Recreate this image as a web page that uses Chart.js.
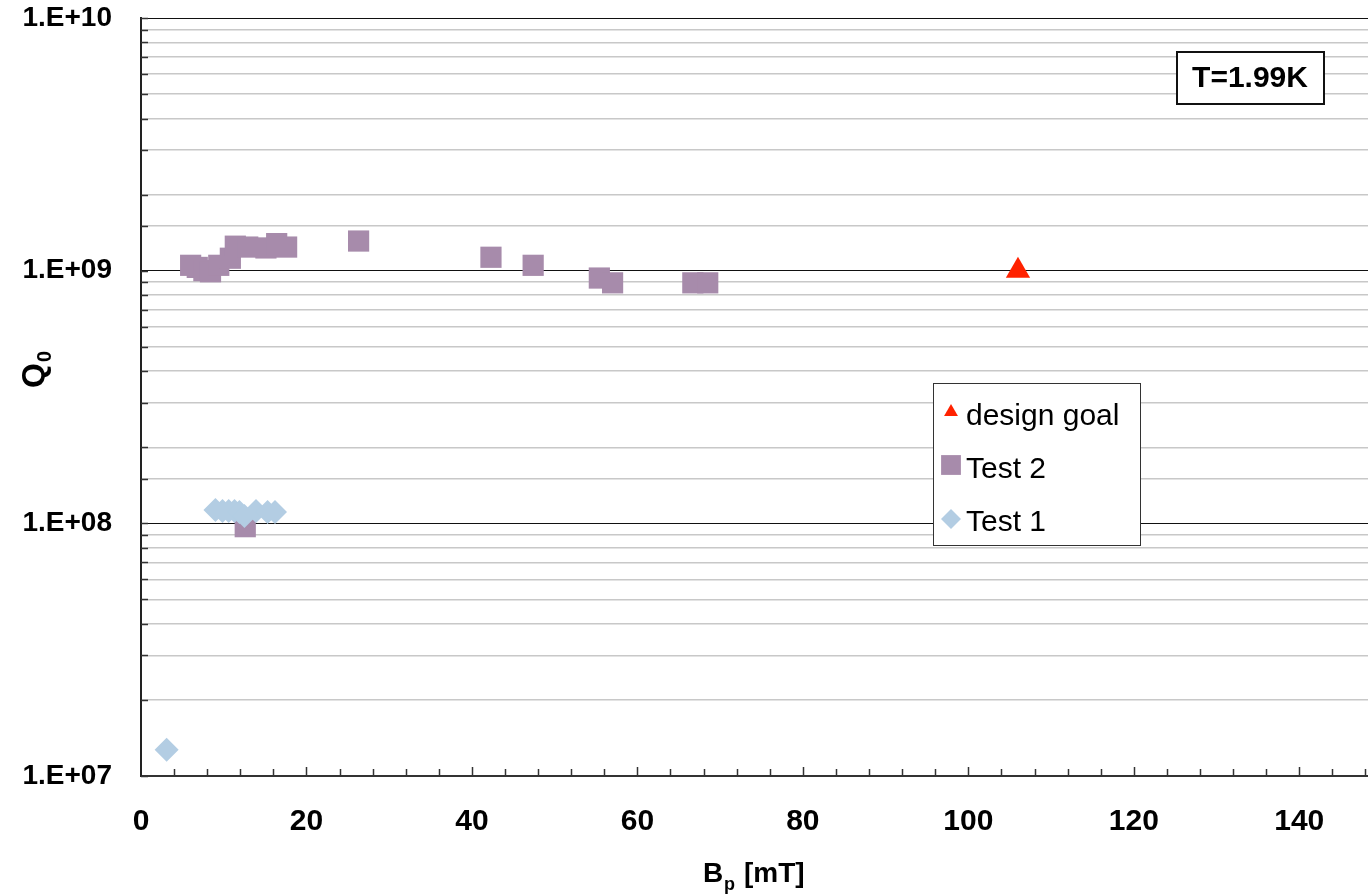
<!DOCTYPE html>
<html>
<head>
<meta charset="utf-8">
<script src="https://cdn.jsdelivr.net/npm/chart.js@4.4.1/dist/chart.umd.min.js"></script>
<style>
  html, body { margin: 0; padding: 0; background: #fff; overflow: hidden; }
  #wrap { width: 1382px; height: 896px; }
</style>
</head>
<body>
<div id="wrap"><canvas id="qChart" width="1382" height="896"></canvas></div>
<script>
// Test 2 (squares)
const test2Bp = [6.0, 6.8, 7.6, 8.4, 9.4, 10.8, 11.4, 12.9, 15.1, 16.4, 17.6, 26.3, 42.3, 47.4, 55.4, 57.0, 66.7, 68.5, 12.6];
const test2Q  = [1.05e9, 1.03e9, 1.0e9, 0.99e9, 1.05e9, 1.12e9, 1.25e9, 1.24e9, 1.23e9, 1.28e9, 1.24e9, 1.31e9, 1.13e9, 1.05e9, 0.935e9, 0.895e9, 0.895e9, 0.895e9, 0.97e8];
// Test 1 (diamonds)
const test1Bp = [9.0, 9.85, 10.6, 11.3, 11.9, 12.5, 13.9, 15.3, 16.2, 3.1];
const test1Q  = [1.13e8, 1.12e8, 1.12e8, 1.12e8, 1.11e8, 1.07e8, 1.12e8, 1.11e8, 1.11e8, 1.27e7];
// design goal
const goalBp = [106];
const goalQ  = [1.0e9];

const xTickLabels = [0, 20, 40, 60, 80, 100, 120, 140];
const tempLabel = 'T=1.99K';

const FONT = "'Liberation Sans', Arial, sans-serif";
const pts = (xs, ys) => xs.map((x, i) => ({ x: x, y: ys[i] }));
const isDecade = v => Math.abs(Math.log10(v) - Math.round(Math.log10(v))) < 1e-9;

const datasets = [
  { label: 'design goal', data: pts(goalBp, goalQ), pointStyle: 'triangle', pointRadius: 14,
    backgroundColor: '#FF2200', borderColor: '#FF2200', borderWidth: 0, order: 0 },
  { label: 'Test 2', data: pts(test2Bp, test2Q), pointStyle: 'rect', pointRadius: 15,
    backgroundColor: '#A78BAB', borderColor: '#A78BAB', borderWidth: 0, order: 2 },
  { label: 'Test 1', data: pts(test1Bp, test1Q), pointStyle: 'rectRot', pointRadius: 12,
    backgroundColor: '#B3CDE3', borderColor: '#B3CDE3', borderWidth: 0, order: 1 }
];

const extras = {
  id: 'extras',
  afterDraw(chart) {
    const ctx = chart.ctx, a = chart.chartArea;
    const xs = chart.scales.x, ys = chart.scales.y;
    ctx.save();

    // inward tick marks
    ctx.strokeStyle = '#333';
    ctx.lineWidth = 1.5;
    for (let v = 4; v <= 150; v += 4) {
      const px = Math.round(xs.getPixelForValue(v)) + 0.5;
      const len = v % 20 === 0 ? 9 : 7;
      ctx.beginPath(); ctx.moveTo(px, a.bottom); ctx.lineTo(px, a.bottom - len); ctx.stroke();
    }
    ys.ticks.forEach(t => {
      const py = Math.round(ys.getPixelForValue(t.value)) + 0.5;
      ctx.beginPath(); ctx.moveTo(a.left, py); ctx.lineTo(a.left + 7, py); ctx.stroke();
    });

    // legend box
    const lx = 933.5, ly = 383.5, lw = 207, lh = 162;
    ctx.fillStyle = '#fff';
    ctx.fillRect(lx, ly, lw, lh);
    ctx.strokeStyle = '#333'; ctx.lineWidth = 1;
    ctx.strokeRect(lx, ly, lw, lh);
    const rows = [
      { ds: datasets[0], r: 8, y: 412, ty: 425 },
      { ds: datasets[1], r: 14, y: 465, ty: 478 },
      { ds: datasets[2], r: 10, y: 519, ty: 531 }
    ];
    rows.forEach(row => {
      ctx.fillStyle = row.ds.backgroundColor;
      ctx.strokeStyle = row.ds.backgroundColor;
      Chart.helpers.drawPoint(ctx, { pointStyle: row.ds.pointStyle, radius: row.r, borderWidth: 0 }, 951, row.y);
      ctx.fillStyle = '#000';
      ctx.font = '30px ' + FONT;
      ctx.textAlign = 'left'; ctx.textBaseline = 'alphabetic';
      ctx.fillText(row.ds.label, 966, row.ty);
    });

    // temperature box
    ctx.fillStyle = '#fff';
    ctx.fillRect(1177, 52, 147, 52);
    ctx.strokeStyle = '#111'; ctx.lineWidth = 2;
    ctx.strokeRect(1177, 52, 147, 52);
    ctx.fillStyle = '#000';
    ctx.font = 'bold 30px ' + FONT;
    ctx.textAlign = 'center'; ctx.textBaseline = 'middle';
    ctx.fillText(tempLabel, 1250, 79);

    // x axis title: B_p [mT]
    ctx.textAlign = 'left'; ctx.textBaseline = 'alphabetic';
    ctx.font = 'bold 28px ' + FONT;
    ctx.fillText('B', 703, 882);
    ctx.font = 'bold 18px ' + FONT;
    ctx.fillText('p', 724, 890);
    ctx.font = 'bold 28px ' + FONT;
    ctx.fillText('[mT]', 744, 882);

    // y axis title: Q_0
    ctx.translate(44, 388);
    ctx.rotate(-Math.PI / 2);
    ctx.font = 'bold 32px ' + FONT;
    ctx.fillText('Q', 0, 0);
    ctx.font = 'bold 20px ' + FONT;
    ctx.fillText('0', 26, 7);

    ctx.restore();
  }
};

new Chart(document.getElementById('qChart'), {
  type: 'scatter',
  data: { datasets: datasets },
  options: {
    responsive: false,
    animation: false,
    events: [],
    layout: { autoPadding: false, padding: { top: 18, right: 0, left: 0, bottom: 0 } },
    plugins: { legend: { display: false }, tooltip: { enabled: false } },
    scales: {
      x: {
        type: 'linear', min: 0, max: 150,
        afterBuildTicks: s => { s.ticks = xTickLabels.map(v => ({ value: v })); },
        afterFit: s => { s.height = 120; s.paddingLeft = 0; s.paddingRight = 0; },
        grid: { display: false, drawTicks: false },
        border: { display: true, color: '#333', width: 2 },
        ticks: { padding: 28, color: '#000', font: { family: FONT, size: 30, weight: 'bold' }, maxRotation: 0, autoSkip: false }
      },
      y: {
        type: 'logarithmic', min: 1e7, max: 1e10,
        afterFit: s => { s.width = 141; s.paddingTop = 0; s.paddingBottom = 0; },
        grid: {
          drawTicks: false,
          color: c => isDecade(c.tick.value) ? '#111' : '#c8c8c8',
          lineWidth: c => isDecade(c.tick.value) ? 1 : 1.5
        },
        border: { display: true, color: '#222', width: 2 },
        ticks: {
          padding: 29, color: '#000', autoSkip: false,
          font: { family: FONT, size: 28, weight: 'bold' },
          callback: v => {
            if (!isDecade(v)) return '';
            const e = Math.round(Math.log10(v));
            return '1.E+' + (e < 10 ? '0' + e : e);
          }
        }
      }
    }
  },
  plugins: [extras]
});
</script>
</body>
</html>
